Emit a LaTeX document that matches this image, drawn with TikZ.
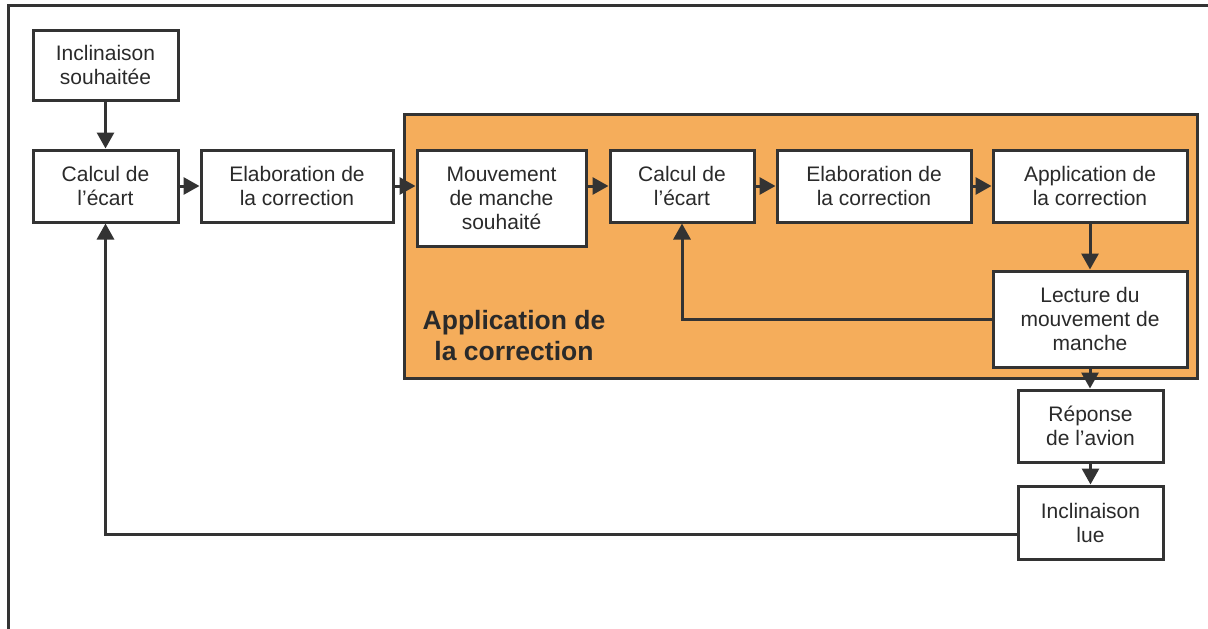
\documentclass[tikz,border=0pt]{standalone}
\usepackage{fontspec}
\setmainfont{Liberation Sans}
\usetikzlibrary{arrows.meta}
\definecolor{ink}{HTML}{333333}
\definecolor{txt}{HTML}{2A2A2A}
\definecolor{panel}{HTML}{F5AD5B}
\tikzset{
  box/.style={draw=ink, line width=3pt, fill=white, text=txt, align=center,
    inner sep=0pt, font=\fontsize{21}{24}\selectfont},
  flow/.style={draw=ink, line width=3pt,
    -{Triangle[length=16pt,width=17pt]}},
  wire/.style={draw=ink, line width=3pt}
}
\begin{document}
\begin{tikzpicture}[x=1pt,y=-1pt]
\useasboundingbox (0,0) rectangle (1208,629);
% page frame (top and left edges)
\draw[ink, line width=3pt] (8,629) -- (8,5) -- (1208,5);
% orange panel
\node[draw=ink, line width=3pt, fill=panel, minimum width=793pt, minimum height=264pt,
  inner sep=0pt, anchor=north west] (panel) at (403,113) {};
\node[text=txt, align=center, font=\fontsize{26.5}{31}\selectfont\bfseries] (lbl) at (514,336)
  {Application de\\la correction};
% boxes
\node[box, minimum width=145pt, minimum height=70pt] (inc) at (105.5,65) {Inclinaison\\souhaitée};
\node[box, minimum width=145pt, minimum height=72pt] (calc1) at (105.5,186) {Calcul de\\l’écart};
\node[box, minimum width=192pt, minimum height=72pt] (elab1) at (297,186) {Elaboration de\\la correction};
\node[box, minimum width=169pt, minimum height=96pt] (mouv) at (501.5,198) {Mouvement\\de manche\\souhaité};
\node[box, minimum width=144pt, minimum height=72pt] (calc2) at (682,186) {Calcul de\\l’écart};
\node[box, minimum width=194pt, minimum height=72pt] (elab2) at (874,186) {Elaboration de\\la correction};
\node[box, minimum width=194pt, minimum height=72pt] (appl) at (1090,186) {Application de\\la correction};
\node[box, minimum width=194pt, minimum height=96pt] (lect) at (1090,319) {Lecture du\\mouvement de\\manche};
\node[box, minimum width=145pt, minimum height=72pt] (rep) at (1090.5,426) {Réponse\\de l’avion};
\node[box, minimum width=145pt, minimum height=73pt] (incl) at (1090.5,522.5) {Inclinaison\\lue};
% feedback corners
\coordinate (k1) at (calc2.south |- lect.west);
\coordinate (k2) at (calc1.south |- 0,534);
% connectors
\draw[flow] (inc) -- (calc1);
\draw[flow] (calc1) -- (elab1);
\draw[flow] (elab1) -- (mouv.west |- elab1.east);
\draw[flow] (mouv.east |- calc2.west) -- (calc2);
\draw[flow] (calc2) -- (elab2);
\draw[flow] (elab2) -- (appl);
\draw[flow] (appl) -- (lect);
\draw[flow] (lect.south) -- (lect.south |- rep.north);
\draw[flow] (rep) -- (incl);
\draw[flow] (lect.west) -- (k1) -- (calc2.south);
\draw[flow] (incl.west |- k2) -- (k2) -- (calc1.south);
\end{tikzpicture}
\end{document}
